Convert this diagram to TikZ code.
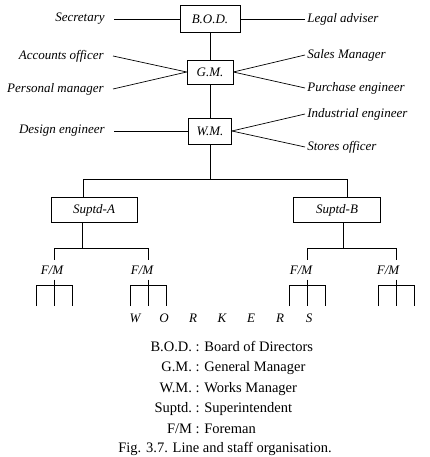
\documentclass[tikz,border=0pt]{standalone}
\usepackage{fontspec}
\setmainfont{Liberation Serif}
\begin{document}
\begin{tikzpicture}[x=1pt,y=-1pt,line width=0.7pt,
  every node/.style={font=\fontsize{13}{15}\selectfont\itshape},
  box/.style={draw,inner sep=0pt,minimum height=25pt},
  lstaff/.style={anchor=east,inner xsep=9pt,inner ysep=2pt},
  rstaff/.style={anchor=west,inner xsep=2pt,inner ysep=2pt},
  fm/.style={inner xsep=2pt,inner ysep=5pt},
  key/.style={font=\fontsize{14.5}{17}\selectfont,inner sep=0pt}]
  \useasboundingbox (0,0) rectangle (429,457);

  \node[box,minimum width=60pt,minimum height=27pt] (bod) at (210,19) {B.O.D.};
  \node[box,minimum width=46pt,minimum height=24pt] (gm) at (210,72) {G.M.};
  \node[box,minimum width=43pt,minimum height=26pt] (wm) at (210,131) {W.M.};
  \node[box,minimum width=86pt] (sa) at (94,210) {Suptd-A};
  \node[box,minimum width=87pt] (sb) at (337,210) {Suptd-B};

  \node[lstaff] (sec) at (114,19) {Secretary};
  \node[lstaff] (acc) at (113,56) {Accounts officer};
  \node[lstaff] (per) at (113,89) {Personal manager};
  \node[lstaff] (des) at (114,131) {Design engineer};
  \node[rstaff] (leg) at (305,19) {Legal adviser};
  \node[rstaff] (sal) at (305,55) {Sales Manager};
  \node[rstaff] (pur) at (305,88) {Purchase engineer};
  \node[rstaff] (ind) at (305,114) {Industrial engineer};
  \node[rstaff] (sto) at (305,147) {Stores officer};

  \draw (sec.east) -- (bod.west);
  \draw (bod.east) -- (leg.west);
  \draw (acc.east) -- (gm.west);
  \draw (per.east) -- (gm.west);
  \draw (gm.east) -- (sal.west);
  \draw (gm.east) -- (pur.west);
  \draw (des.east) -- (wm.west);
  \draw (wm.east) -- (ind.west);
  \draw (wm.east) -- (sto.west);
  \draw (bod.south) -- (gm.north);
  \draw (gm.south) -- (wm.north);

  \coordinate (ja) at (83,179);
  \coordinate (jb) at (347,179);
  \draw (wm.south) -- (wm.south |- ja);
  \draw (sa.north -| ja) -- (ja) -- (jb) -- (sb.north -| jb);
  \coordinate (ka) at (82,248);
  \coordinate (kb) at (343,248);
  \draw (sa.south -| ka) -- (ka);
  \draw (sb.south -| kb) -- (kb);

  \foreach \n/\lx/\nx in {fa1/54/52,fa2/148/142,fb1/307/301,fb2/396/388}{
    \node[fm] (\n) at (\nx,270) {F/M};
    \coordinate (d\n) at (\lx,248);
    \draw (d\n) -- (d\n |- \n.north);
    \draw (d\n |- \n.south) -- (\lx,306);
    \draw ({\lx-18},306) -- ({\lx-18},285) -- ({\lx+18},285) -- ({\lx+18},306);
  }
  \draw (dfa1) -- (dfa2);
  \draw (dfb1) -- (dfb2);

  \foreach \c [count=\i] in {W,O,R,K,E,R,S}
    \node (w\i) at ({135+29*(\i-1)},318) {\c};

  \foreach \a/\b [count=\i] in {B.O.D./Board of Directors,G.M./General Manager,W.M./Works Manager,Suptd./Superintendent,{F/M}/Foreman}{
    \node[key,anchor=base east] (k\i) at (200,{351+20.5*(\i-1)}) {\a\ :};
    \node[key,anchor=base west] (m\i) at (204,{351+20.5*(\i-1)}) {\b};
  }
  \node[key,anchor=base] (cap) at (225,452) {Fig. 3.7. Line and staff organisation.};
\end{tikzpicture}
\end{document}
